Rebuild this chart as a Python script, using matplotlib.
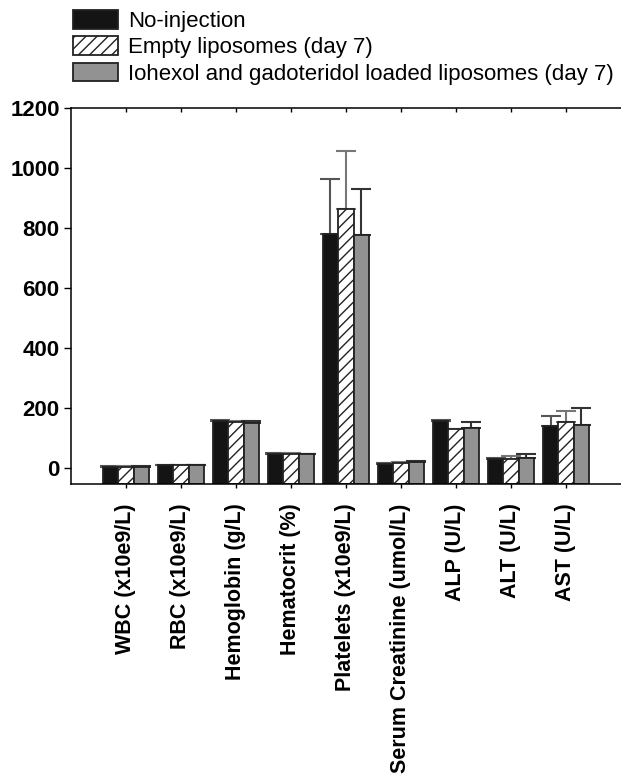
import numpy as np
import matplotlib
matplotlib.use("Agg")
import matplotlib.pyplot as plt

plt.rcParams['font.family'] = ['Liberation Sans', 'DejaVu Sans']
plt.rcParams['hatch.linewidth'] = 1.0

categories = ['WBC (x10e9/L)', 'RBC (x10e9/L)', 'Hemoglobin (g/L)', 'Hematocrit (%)',
              'Platelets (x10e9/L)', 'Serum Creatinine (umol/L)', 'ALP (U/L)',
              'ALT (U/L)', 'AST (U/L)']
series_names = ['No-injection', 'Empty liposomes (day 7)',
                'Iohexol and gadoteridol loaded liposomes (day 7)']

no_injection = [5, 10, 157, 47, 782, 15, 157, 32, 141]
empty_lipo = [5, 10, 153, 47, 863, 18, 130, 32, 155]
loaded_lipo = [5, 10, 152, 46, 778, 21, 134, 35, 145]

no_injection_err = [1, 1.5, 4, 2, 183, 2, 5, 3, 32]
empty_lipo_err = [1, 1.5, 5, 2, 194, 2, 2, 8, 35]
loaded_lipo_err = [1, 1.5, 6, 2, 152, 2, 21, 11, 55]

y_min, y_max = -52, 1200

fig = plt.figure(figsize=(6.21, 7.74), dpi=100)
ax = fig.add_axes([0.114, 0.375, 0.886, 0.485])

x = np.arange(len(categories))
w = 0.28
styles = [
    dict(color='#141414', edgecolor='#222222', hatch=None, ecolor='#555555'),
    dict(color='white', edgecolor='#222222', hatch='///', ecolor='#777777'),
    dict(color='#929292', edgecolor='#222222', hatch=None, ecolor='#333333'),
]
data = [no_injection, empty_lipo, loaded_lipo]
errs = [no_injection_err, empty_lipo_err, loaded_lipo_err]

for k, (vals, err, st, name) in enumerate(zip(data, errs, styles, series_names)):
    pos = x + (k - 1) * w
    vals = np.array(vals, dtype=float)
    # only the upper half of each error bar is shown
    ax.errorbar(pos, vals, yerr=[np.zeros_like(vals), err], fmt='none',
                ecolor=st['ecolor'], elinewidth=1.5, capsize=7, capthick=1.5, zorder=1)
    ax.bar(pos, vals - y_min, bottom=y_min, width=w, color=st['color'],
           edgecolor=st['edgecolor'], linewidth=1.3, hatch=st['hatch'],
           label=name, zorder=2)

ax.set_xlim(-1, 9)
ax.set_ylim(y_min, y_max)
ax.set_yticks([0, 200, 400, 600, 800, 1000, 1200])
ax.set_xticks(x)
ax.set_xticklabels(categories, rotation=90, fontsize=15.5, fontweight='bold')
for lab in ax.get_yticklabels():
    lab.set_fontweight('bold')
ax.tick_params(axis='y', labelsize=16, direction='out', length=5, width=1, pad=3)
ax.tick_params(axis='x', direction='out', length=3, width=1, pad=11)

# ticks along the top line as well
ax.tick_params(axis='x', which='major', top=True, labeltop=False)
ax.spines['right'].set_visible(False)
for s in ['left', 'bottom', 'top']:
    ax.spines[s].set_linewidth(1.1)

# top ticks point down into the plot
for t in ax.xaxis.get_major_ticks():
    t.tick2line.set_marker(3)
    t.tick2line.set_markersize(3)
    t.tick2line.set_color('#444444')

fig.legend(loc='upper left', bbox_to_anchor=(0.118, 0.987), frameon=False,
           fontsize=16, handlelength=2.0, handleheight=0.9, handletextpad=0.45,
           labelspacing=0.2, borderpad=0, borderaxespad=0)

fig.savefig('out.png', dpi=100)
